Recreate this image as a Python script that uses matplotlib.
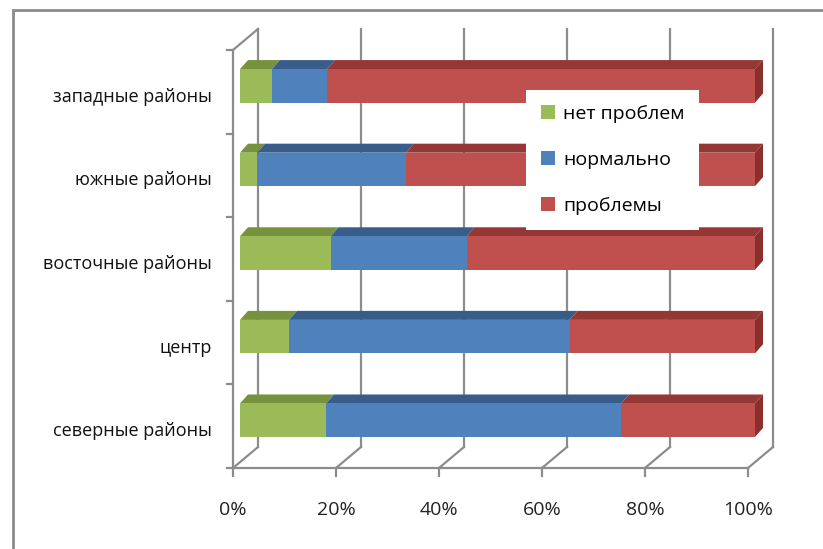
import matplotlib
matplotlib.use("Agg")
import matplotlib.pyplot as plt
from matplotlib.patches import Polygon, Rectangle

plt.rcParams['font.family'] = ['Open Sans', 'DejaVu Sans']

# data (percent shares), top to bottom as in the picture
regions = ["западные районы", "южные районы", "восточные районы", "центр", "северные районы"]
net_problem = [6.2, 3.3, 17.6, 9.5, 16.7]
normalno = [10.7, 28.9, 26.4, 54.5, 57.3]
problemy = [83.1, 67.8, 56.0, 36.0, 26.0]
series_names = ["нет проблем", "нормально", "проблемы"]
xticks = [0, 20, 40, 60, 80, 100]

front_cols = ["#9bbb59", "#4f81bd", "#c0504d"]
top_cols = ["#76923c", "#385d8a", "#953735"]
side_col = "#8a2f2c"
grid_col = "#8c8c8c"

W, H = 823, 549
fig = plt.figure(figsize=(W / 100, H / 100), dpi=100)
# plot area (front plane) in pixels
L, R, T, B = 233, 748, 50, 468
ax = fig.add_axes([L / W, 1 - B / H, (R - L) / W, (B - T) / H])
ax.set_xlim(0, 100)
ax.set_ylim(len(regions) - 0.5, -0.5)
ax.axis("off")

# pixel -> data conversion for the 3d depth
px_x = 100 / (R - L)
px_y = len(regions) / (B - T)
DX, DY = 25 * px_x, 21 * px_y          # full depth of the box
fx, fy = 7 * px_x, 6 * px_y            # bar front face offset
bx, by = 15 * px_x, 15 * px_y          # bar back face offset
bh = 0.4
y0, y1 = -0.5, len(regions) - 0.5

lw = 1.6
kw = dict(color=grid_col, lw=lw, zorder=1, clip_on=False)
# back wall gridlines and floor diagonals
for t in xticks:
    ax.plot([t + DX, t + DX], [y1 - DY, y0 - DY], **kw)
    ax.plot([t, t + DX], [y1, y1 - DY], **kw)
    ax.plot([t, t], [y1, y1 + 8 * px_y], **kw)
# left wall: front axis and top diagonal
ax.plot([0, 0], [y0, y1], **kw)
ax.plot([0, DX], [y0, y0 - DY], **kw)
ax.plot([0, 100], [y1, y1], **kw)
for k in range(len(regions) + 1):
    ax.plot([-6 * px_x, 0], [y0 + k, y0 + k], **kw)

# bars
for i in range(len(regions)):
    vals = [net_problem[i], normalno[i], problemy[i]]
    left = 0
    yt, yb = i - bh / 2 - fy, i + bh / 2 - fy
    for j, v in enumerate(vals):
        x0, x1 = left + fx, left + v + fx
        ax.add_patch(Polygon([(x0, yt), (x1, yt), (x1 - fx + bx, yt - by + fy),
                              (x0 - fx + bx, yt - by + fy)],
                             closed=True, fc=top_cols[j], ec="none", zorder=3, clip_on=False))
        ax.add_patch(Rectangle((x0, yt), v, bh, fc=front_cols[j], ec="none", zorder=4,
                               clip_on=False))
        left += v
    xe = left + fx
    ax.add_patch(Polygon([(xe, yt), (xe - fx + bx, yt - by + fy),
                          (xe - fx + bx, yb - by + fy), (xe, yb)],
                         closed=True, fc=side_col, ec="none", zorder=3, clip_on=False))

# category labels
for i, name in enumerate(regions):
    ax.text(-21 * px_x, i + 0.06, name, ha="right", va="center", fontsize=13,
            color="#111111", clip_on=False)
# x tick labels
for t in xticks:
    ax.text(t, y1 + 42 * px_y, f"{t}%", ha="center", va="center", fontsize=14,
            color="#222222", clip_on=False)

# legend
handles = [Rectangle((0, 0), 1, 1, fc=c, ec="none") for c in front_cols]
leg = fig.legend(handles, series_names, loc="upper left",
                 bbox_to_anchor=(526 / W, 1 - 90 / H), frameon=True, fancybox=False,
                 fontsize=14, handlelength=0.75, handleheight=0.75,
                 handletextpad=0.4, labelspacing=1.45, borderpad=0.75, borderaxespad=0)
leg.get_frame().set_facecolor("white")
leg.get_frame().set_edgecolor("none")
leg.get_frame().set_alpha(1)
leg.set_zorder(10)

# outer border
fig.add_artist(Rectangle((13 / W, -0.1), 1.2, 1 - 10 / H + 0.1, transform=fig.transFigure,
                         fill=False, ec="#8c8c8c", lw=2))

fig.savefig("out.png", dpi=100)
